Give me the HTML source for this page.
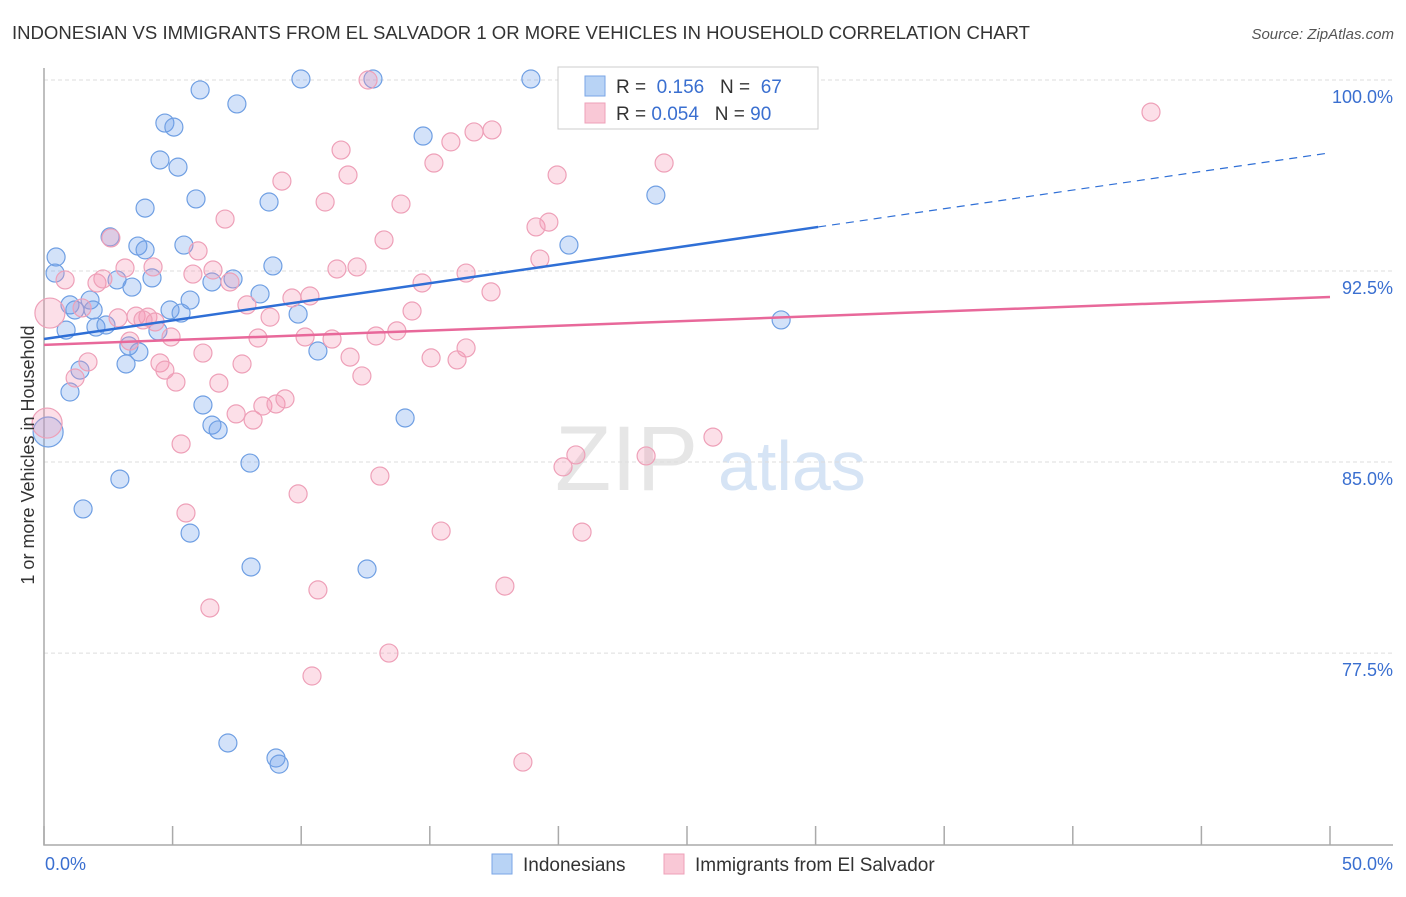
<!DOCTYPE html>
<html><head><meta charset="utf-8"><style>
body{margin:0;background:#fff;font-family:"Liberation Sans",sans-serif}
svg text{font-family:"Liberation Sans",sans-serif}
</style></head><body>
<svg id="chart" width="1406" height="892" xmlns="http://www.w3.org/2000/svg">
<text x="12" y="39" font-size="18" fill="#333" textLength="1018" lengthAdjust="spacingAndGlyphs">INDONESIAN VS IMMIGRANTS FROM EL SALVADOR 1 OR MORE VEHICLES IN HOUSEHOLD CORRELATION CHART</text>
<text x="1394" y="39" font-size="15" fill="#555" font-style="italic" text-anchor="end">Source: ZipAtlas.com</text>
<g><text x="555" y="490" font-size="92" fill="#e6e6e6" font-family="Liberation Serif">ZIP</text><text x="718" y="490" font-size="70" fill="#d6e4f5">atlas</text></g>
<g id="grid"></g><g id="axes"></g><g id="pts"></g><g id="lines"></g>
<text x="34" y="455" font-size="18" fill="#333" text-anchor="middle" transform="rotate(-90 34 455)">1 or more Vehicles in Household</text>
<text x="45" y="870" font-size="18" fill="#3a6fd0">0.0%</text>
<text x="1393" y="870" font-size="18" fill="#3a6fd0" text-anchor="end">50.0%</text>
<g>
<rect x="558" y="67" width="260" height="62" fill="#fff" stroke="#ccc"/>
<rect x="585" y="76" width="20" height="20" fill="#b8d3f5" stroke="#7aa6e6"/>
<rect x="585" y="103" width="20" height="20" fill="#f9c8d6" stroke="#eea0b8"/>
<text x="616" y="93" font-size="19" fill="#333">R = <tspan fill="#3a6fd0">&#160;0.156</tspan>&#160;&#160;&#160;N = <tspan fill="#3a6fd0">&#160;67</tspan></text>
<text x="616" y="120" font-size="19" fill="#333">R = <tspan fill="#3a6fd0">0.054</tspan>&#160;&#160;&#160;N = <tspan fill="#3a6fd0">90</tspan></text>
</g>
<g>
<rect x="492" y="854" width="20" height="20" fill="#b8d3f5" stroke="#7aa6e6"/>
<text x="523" y="871" font-size="19" fill="#333">Indonesians</text>
<rect x="664" y="854" width="20" height="20" fill="#f9c8d6" stroke="#eea0b8"/>
<text x="695" y="871" font-size="19" fill="#333">Immigrants from El Salvador</text>
</g>
</svg>
<script>
const yTicks=[100,92.5,85,77.5];
const yTickLabels=["100.0%","92.5%","85.0%","77.5%"];
const xTicks=[0,5,10,15,20,25,30,35,40,45,50];
const blueX=[0.47,0.43,1.01,0.86,1.79,1.91,2.02,2.41,2.57,2.84,3.42,3.65,3.93,4.20,3.93,4.51,4.70,5.05,5.21,5.91,5.44,4.90,5.33,4.43,3.30,3.69,3.19,1.01,1.40,1.52,2.95,5.68,6.18,6.53,6.77,6.07,7.50,6.53,7.35,8.40,8.90,8.75,9.88,10.65,8.01,8.05,7.15,9.02,9.14,9.99,12.79,12.56,14.04,14.74,18.93,20.41,23.79,28.66,0.16,1.2,5.68];
const blueY=[93.05,92.42,91.17,90.18,91.36,90.97,90.30,90.38,93.84,92.15,91.87,93.48,93.33,92.23,94.97,96.86,98.31,98.15,96.58,95.33,93.52,90.97,90.85,90.15,89.56,89.32,88.85,87.75,88.61,83.16,84.33,82.21,87.24,86.45,86.26,99.61,99.06,92.07,92.19,91.60,92.70,95.21,90.81,89.36,84.96,80.88,73.97,73.38,73.14,100.04,100.04,80.80,86.73,97.80,100.04,93.52,95.48,90.58,86.18,90.97,91.36];
const pinkX=[0.23,0.82,1.21,1.71,2.06,2.29,2.60,2.88,3.15,3.34,3.58,4.04,4.24,4.32,4.51,4.70,4.94,5.13,5.33,5.52,5.79,5.99,6.18,6.45,6.57,6.80,7.04,7.23,7.47,7.70,7.89,8.13,8.32,8.51,8.79,9.02,9.25,9.37,9.64,9.88,10.15,10.34,10.42,10.65,10.93,11.20,11.39,11.55,11.82,11.90,12.17,12.36,12.60,12.91,13.06,13.22,13.41,13.72,13.88,14.31,14.70,15.05,15.16,15.44,15.82,16.06,16.41,16.41,16.72,17.42,17.38,17.92,18.62,19.13,19.28,19.63,19.95,20.18,20.68,20.92,23.41,24.11,26.01,43.04,0.12,1.48,3.85];
const pinkY=[90.85,92.15,88.30,88.93,92.03,92.19,93.80,90.66,92.62,89.75,90.73,90.69,92.66,90.50,88.89,88.61,89.91,88.14,85.71,83.00,92.38,93.29,89.28,79.27,92.54,88.10,94.54,92.07,86.89,88.85,91.17,86.65,89.87,87.20,90.69,87.28,96.03,87.48,91.44,83.75,89.91,91.52,76.60,79.98,95.21,89.83,92.58,97.25,96.27,89.12,92.66,88.38,100,89.95,84.45,93.72,77.50,90.15,95.13,90.93,92.03,89.09,96.74,82.29,97.57,89.01,89.48,92.42,97.96,98.04,91.68,80.13,73.22,94.23,92.97,94.42,96.27,84.81,85.28,82.25,85.24,96.74,85.98,98.74,86.53,91.05,90.58];
const bigBlue=[58];const bigPink=[0,84];
const blueLine=[89.83,97.14];const pinkLine=[89.6,91.48];
const X=v=>44+v*25.72, Y=v=>80+(100-v)*25.47;
const NS="http://www.w3.org/2000/svg";
function mk(t,a,p){const e=document.createElementNS(NS,t);for(const k in a)e.setAttribute(k,a[k]);p.appendChild(e);return e;}
const grid=document.getElementById('grid'),axes=document.getElementById('axes'),pts=document.getElementById('pts'),lines=document.getElementById('lines');
yTicks.forEach((v,i)=>{const l=mk('line',{x1:44,x2:1393,y1:Y(v),y2:Y(v),stroke:'#ddd','stroke-dasharray':'4 3'},grid);


const t=mk('text',{x:1393,y:Y(v)+23,'font-size':18,fill:'#3a6fd0','text-anchor':'end'},grid);t.textContent=yTickLabels[i];

});
const ax=mk('path',{d:'M44 68 V845 H1393',fill:'none',stroke:'#aaa','stroke-width':1.5},axes);


xTicks.forEach(v=>{const t=mk('line',{x1:X(v),x2:X(v),y1:826,y2:845,stroke:'#aaa','stroke-width':1.5},axes);

});
blueX.forEach((x,i)=>{const big=bigBlue.includes(i);const c=mk('circle',{cx:X(x),cy:Y(blueY[i]),r:big?15:9,fill:'rgba(110,160,235,0.3)',stroke:'#6f9fe3','stroke-width':1.2},pts);

});
pinkX.forEach((x,i)=>{const big=bigPink.includes(i);const c=mk('circle',{cx:X(x),cy:Y(pinkY[i]),r:big?15:9,fill:'rgba(245,150,180,0.3)',stroke:'#eea0b8','stroke-width':1.2},pts);

});
const bAt=x=>blueLine[0]+(blueLine[1]-blueLine[0])*x/50;
const b1=mk('line',{x1:X(0),y1:Y(bAt(0)),x2:X(30.1),y2:Y(bAt(30.1)),stroke:'#2f6fd6','stroke-width':2.5},lines);


const b2=mk('line',{x1:X(30.1),y1:Y(bAt(30.1)),x2:X(50),y2:Y(bAt(50)),stroke:'#2f6fd6','stroke-width':1.2,'stroke-dasharray':'8 6'},lines);


const p1=mk('line',{x1:X(0),y1:Y(pinkLine[0]),x2:X(50),y2:Y(pinkLine[1]),stroke:'#e8689a','stroke-width':2.5},lines);


</script>
</body></html>
